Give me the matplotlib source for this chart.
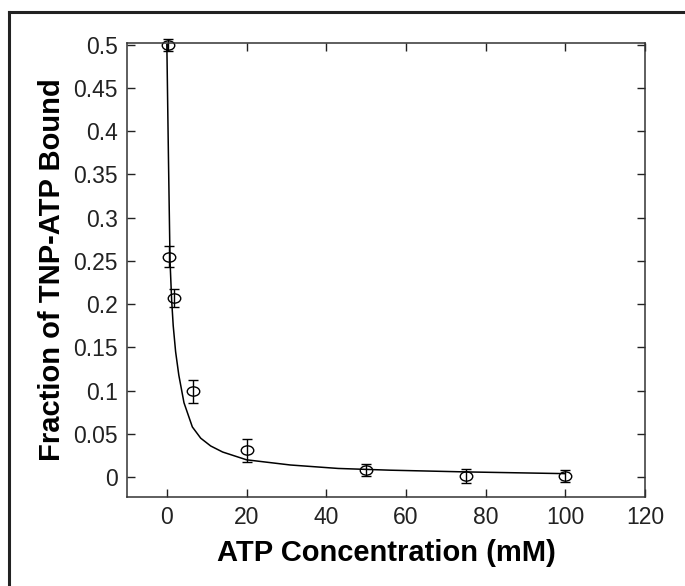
# Fraction of TNP-ATP bound vs ATP concentration, with fitted curve

import matplotlib.pyplot as plt
from matplotlib.lines import Line2D
from matplotlib.path import Path
from matplotlib.transforms import Affine2D

plt.rcParams['font.family'] = ['Liberation Sans', 'DejaVu Sans']

# Measured points (ATP in mM)
atp_conc = [0.2, 0.6, 1.7, 6.6, 20, 50, 75, 100]
frac_bound = [0.500, 0.255, 0.207, 0.099, 0.031, 0.008, 0.001, 0.001]
frac_err = [0.007, 0.012, 0.010, 0.013, 0.013, 0.007, 0.008, 0.007]

# Fitted curve
fit_x = [0, 0.4, 0.8, 1.2, 1.6, 2.2, 3.0, 4.3, 6.4, 8.5, 11, 14, 20, 31, 43, 56, 75, 100]
fit_y = [0.5, 0.37, 0.25, 0.205, 0.175, 0.145, 0.118, 0.086, 0.058, 0.045,
         0.036, 0.029, 0.020, 0.014, 0.010, 0.008, 0.006, 0.004]

xticks = [0, 20, 40, 60, 80, 100, 120]
yticks = [0, 0.05, 0.1, 0.15, 0.2, 0.25, 0.3, 0.35, 0.4, 0.45, 0.5]
ytick_labels = ['0', '0.05', '0.1', '0.15', '0.2', '0.25', '0.3', '0.35', '0.4', '0.45', '0.5']

# slightly flattened open circle, like the original
ellipse = Affine2D().scale(1.35, 1.0).transform_path(Path.unit_circle())

fig = plt.figure(figsize=(6.85, 5.86), dpi=100)
ax = fig.add_axes([0.1854, 0.1519, 0.7562, 0.7747])

ax.plot(fit_x, fit_y, color='black', linewidth=1.1)
eb = ax.errorbar(atp_conc, frac_bound, yerr=frac_err, fmt='none', ecolor='black',
                 elinewidth=1, capsize=3.5, capthick=1)
for art in eb.get_children():
    art.set_clip_on(False)
ax.plot(atp_conc, frac_bound, linestyle='none', marker=ellipse, markersize=9,
        mfc='none', mec='black', mew=1, clip_on=False)

ax.set_xlim(-10, 120)
ax.set_ylim(-0.023, 0.502)
ax.set_xticks(xticks)
ax.set_yticks(yticks)
ax.set_yticklabels(ytick_labels)
ax.tick_params(direction='in', length=6, width=1, labelsize=16.5, pad=6.5,
               top=True, right=True, colors='#222222')

for s in ax.spines.values():
    s.set_linewidth(1.1)
    s.set_color('#333333')

ax.set_xlabel('ATP Concentration (mM)', fontsize=21, fontweight='bold', labelpad=7)
ax.set_ylabel('Fraction of TNP-ATP Bound', fontsize=21, fontweight='bold', labelpad=5)

# partial frame of the original figure
fig.add_artist(Line2D([0.0125, 0.0125], [0, 0.98], transform=fig.transFigure,
                      color='#222222', linewidth=2.2))
fig.add_artist(Line2D([0.0125, 1.0], [0.98, 0.98], transform=fig.transFigure,
                      color='#222222', linewidth=2.2))

fig.savefig('out.png', dpi=100)
